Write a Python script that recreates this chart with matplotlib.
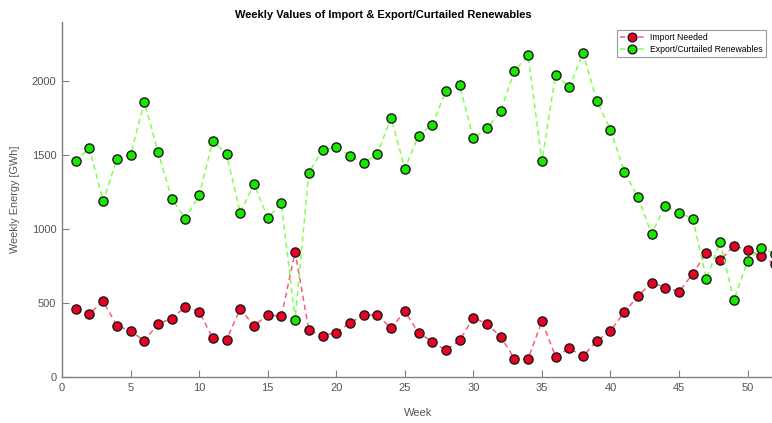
import matplotlib
matplotlib.use("Agg")
import matplotlib.pyplot as plt
import numpy as np

plt.rcParams['font.family'] = ['Liberation Sans', 'DejaVu Sans']

# weekly energy values in GWh
weeks = np.arange(1, 53)
import_needed = [458, 428, 512, 347, 311, 244, 359, 395, 474, 442,
                 262, 253, 462, 345, 422, 410, 846, 318, 280, 300,
                 365, 419, 419, 329, 444, 300, 239, 180, 248, 401,
                 359, 271, 124, 124, 377, 138, 194, 140, 244, 311,
                 437, 546, 638, 604, 577, 697, 841, 789, 886, 859,
                 816, 763]
export_curtailed = [1457, 1549, 1188, 1472, 1499, 1860, 1524, 1206, 1069, 1229,
                    1596, 1506, 1109, 1308, 1076, 1175, 388, 1380, 1535, 1553,
                    1497, 1445, 1508, 1754, 1409, 1630, 1707, 1932, 1973, 1614,
                    1680, 1799, 2072, 2174, 1457, 2045, 1959, 2192, 1867, 1673,
                    1389, 1218, 967, 1159, 1109, 1071, 665, 913, 519, 785,
                    873, 832]

W, H = 772, 423
fig = plt.figure(figsize=(W / 100, H / 100), dpi=100)
ax = fig.add_axes([62 / W, 46 / H, 713 / W, 355 / H])

ax.plot(weeks, import_needed, linestyle='--', dashes=(3.5, 2.5), color='#ff5a78',
        lw=1.1, marker='o', ms=6.6, mfc='#ec0022', mec='#1a1a1a', mew=1.0,
        label='Import Needed')
ax.plot(weeks, export_curtailed, linestyle='--', dashes=(3.5, 2.5), color='#80ff50',
        lw=1.1, marker='o', ms=6.6, mfc='#18e800', mec='#1a1a1a', mew=1.0,
        label='Export/Curtailed Renewables')

ax.set_xlim(0, 52)
ax.set_ylim(0, 2400)
ax.set_xticks(np.arange(0, 51, 5))
ax.set_yticks([0, 500, 1000, 1500, 2000])

gray = '#808080'
for side in ['top', 'right']:
    ax.spines[side].set_visible(False)
for side in ['left', 'bottom']:
    ax.spines[side].set_color(gray)
    ax.spines[side].set_linewidth(1.0)
ax.tick_params(direction='in', length=5, width=0.8, color=gray,
               labelcolor='#555555', labelsize=8, pad=4)

ax.set_xlabel('Week', fontsize=8, color='#555555')
ax.set_ylabel('Weekly Energy [GWh]', fontsize=7.8, color='#555555')
ax.xaxis.set_label_coords(0.5, -36 / 355, transform=ax.transAxes)
ax.yaxis.set_label_coords(-47 / 713, 0.5, transform=ax.transAxes)
ax.xaxis.label.set_va('center')
ax.yaxis.label.set_va('center')

fig.text(383 / W, 1 - 15 / H, 'Weekly Values of Import & Export/Curtailed Renewables',
         ha='center', va='center', fontsize=8, fontweight='bold', color='black')

leg = ax.legend(loc='upper right', bbox_to_anchor=(766 / W, 1 - 30 / H),
                bbox_transform=fig.transFigure, fontsize=6.2, frameon=True,
                fancybox=False, edgecolor='#9a9a9a', framealpha=1,
                borderpad=0.35, labelspacing=0.3, handlelength=2.8,
                handletextpad=0.7, borderaxespad=0)
leg.get_frame().set_linewidth(0.8)
for h in leg.legend_handles:
    h.set_markersize(6.3)

fig.savefig('out.png', dpi=100)
